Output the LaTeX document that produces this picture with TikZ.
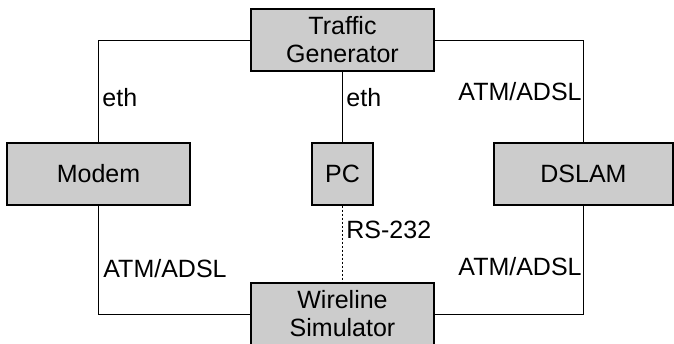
\documentclass[tikz,border=0pt]{standalone}
\usepackage{fontspec}
\setmainfont{Liberation Sans}
\usetikzlibrary{positioning}
\definecolor{boxgray}{RGB}{204,204,204}

\begin{document}
\begin{tikzpicture}[
    x=0.5pt, y=-0.5pt,
    box/.style={draw, line width=1pt, fill=boxgray, minimum width=91.5pt, minimum height=31pt, inner sep=0pt, align=center, font=\fontsize{12.5}{14}\selectfont},
    link/.style={line width=0.5pt},
    lbl/.style={inner sep=0pt, font=\fontsize{12.5}{14}\selectfont}
]
\useasboundingbox (0,0) rectangle (674,343);

\node[box] (tg) at (342.5,40) {Traffic\\Generator};
\node[box] (modem) at (98.5,173.5) {Modem};
\node[box, minimum width=30.5pt] (pc) at (342.5,173.5) {PC};
\node[box, minimum width=89.5pt] (dslam) at (583.5,173.5) {DSLAM};
\node[box] (ws) at (342.5,314) {Wireline\\Simulator};

\draw[link] (tg.west) -| (modem.north);
\draw[link] (tg.east) -| (dslam.north);
\draw[link] (tg.south) -- (pc.north);
\draw[link] (modem.south) |- (ws.west);
\draw[link] (dslam.south) |- (ws.east);
\draw[link, dash pattern=on 1pt off 1pt] (pc.south) -- (ws.north);

\node[lbl, anchor=base west] (ethmodem) at (102,106) {eth};
\node[lbl, anchor=base west] (ethpc) at (346,106) {eth};
\node[lbl, anchor=base east] (atmdslam) at (582,100) {ATM/ADSL};
\node[lbl, anchor=base west] (rs) at (346,238) {RS-232};
\node[lbl, anchor=base west] (atmmodem) at (103,277) {ATM/ADSL};
\node[lbl, anchor=base east] (atmws) at (582,275) {ATM/ADSL};
\end{tikzpicture}
\end{document}
